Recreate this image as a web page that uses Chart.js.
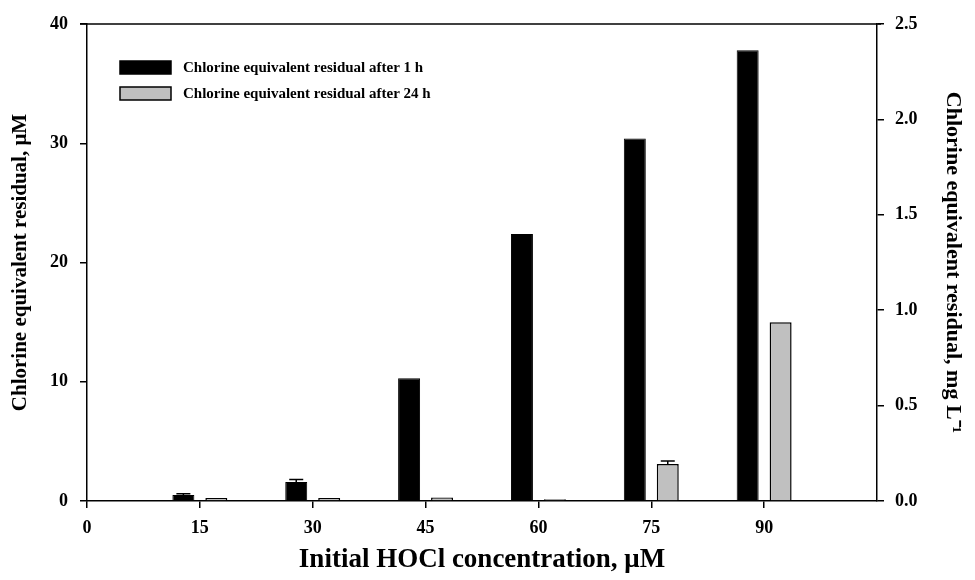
<!DOCTYPE html>
<html>
<head>
<meta charset="utf-8">
<script src="https://cdn.jsdelivr.net/npm/chart.js@4"></script>
<style>
  body { margin: 0; background: #fff; }
  #wrap { width: 975px; height: 580px; }
</style>
</head>
<body>
<div id="wrap"><canvas id="barChart" width="975" height="580"></canvas></div>
<script>
// data
const concentrations = [15, 30, 45, 60, 75, 90];
const residual1h = [0.5, 1.6, 10.3, 22.4, 30.4, 37.8];
const residual24h = [0.25, 0.25, 0.3, 0.15, 3.1, 15.0];
const err1h = [0.1, 0.2, 0, 0, 0, 0];
const err24h = [0, 0, 0, 0, 0.25, 0];
const xTicks = [0, 15, 30, 45, 60, 75, 90];
const seriesNames = ['Chlorine equivalent residual after 1 h', 'Chlorine equivalent residual after 24 h'];

const FONT = '"Liberation Serif", "Times New Roman", serif';
const tickFont = { family: FONT, size: 18, weight: 'bold' };
const yTitleFont = { family: FONT, size: 21, weight: 'bold' };
const y2TitleFont = { family: FONT, size: 22, weight: 'bold' };
const xTitleFont = { family: FONT, size: 27, weight: 'bold' };

// top frame line + error bars + legend inside plot
const extras = {
    id: 'extras',
    afterDatasetsDraw(chart) {
        const ctx = chart.ctx;
        const y = chart.scales.y;
        const errs = [err1h, err24h];
        ctx.save();
        ctx.strokeStyle = '#000';
        ctx.lineWidth = 1.5;
        chart.data.datasets.forEach((ds, i) => {
            const meta = chart.getDatasetMeta(i);
            meta.data.forEach((bar, j) => {
                const e = errs[i][j];
                if (!e) return;
                const top = y.getPixelForValue(ds.data[j].y + e);
                const cx = bar.x;
                ctx.beginPath();
                ctx.moveTo(cx, bar.y);
                ctx.lineTo(cx, top);
                ctx.moveTo(cx - 7, top);
                ctx.lineTo(cx + 7, top);
                ctx.stroke();
            });
        });
        // top border of frame
        const a = chart.chartArea;
        ctx.beginPath();
        ctx.moveTo(a.left - 7, a.top);
        ctx.lineTo(a.right + 4, a.top);
        ctx.stroke();
        // legend
        ctx.font = 'bold 15px ' + FONT;
        ctx.textBaseline = 'middle';
        const lx = a.left + 33, ly = [a.top + 37, a.top + 63];
        chart.data.datasets.forEach((ds, i) => {
            ctx.fillStyle = ds.backgroundColor;
            ctx.fillRect(lx, ly[i], 51, 13);
            ctx.lineWidth = 1.5;
            ctx.strokeRect(lx, ly[i], 51, 13);
            ctx.fillStyle = '#000';
            ctx.fillText(ds.label, lx + 63, ly[i] + 7);
        });
        ctx.restore();
    }
};

const gridOpts = { display: true, drawOnChartArea: false, offset: false, color: '#000', tickLength: 7, lineWidth: 1.5 };
const borderOpts = { display: true, color: '#000', width: 1.5 };

const ctx = document.getElementById('barChart').getContext('2d');
new Chart(ctx, {
    type: 'bar',
    data: {
        datasets: [{
            label: seriesNames[0],
            data: concentrations.map((c, i) => ({ x: c, y: residual1h[i] })),
            backgroundColor: '#000000',
            borderColor: '#000000',
            borderWidth: 1
        }, {
            label: seriesNames[1],
            data: concentrations.map((c, i) => ({ x: c, y: residual24h[i] })),
            backgroundColor: '#c0c0c0',
            borderColor: '#000000',
            borderWidth: 1.5
        }]
    },
    options: {
        responsive: false,
        animation: false,
        layout: { padding: { top: 24, left: 0, right: 0, bottom: 0 } },
        datasets: { bar: { categoryPercentage: 0.584, barPercentage: 0.667 } },
        plugins: {
            legend: { display: false },
            tooltip: { enabled: false }
        },
        scales: {
            x: {
                type: 'linear',
                min: 0,
                max: 105,
                offset: false,
                afterBuildTicks: s => { s.ticks = xTicks.map(v => ({ value: v })); },
                afterFit: s => { s.height = 79; },
                ticks: { font: tickFont, color: '#000', padding: 10, maxRotation: 0 },
                grid: gridOpts,
                border: borderOpts,
                title: { display: true, text: 'Initial HOCl concentration, μM', font: xTitleFont, color: '#000', padding: { top: 4, bottom: 4 } }
            },
            y: {
                position: 'left',
                min: 0,
                max: 40,
                afterFit: s => { s.width = 87; },
                ticks: { stepSize: 10, font: tickFont, color: '#000', padding: 12 },
                grid: gridOpts,
                border: borderOpts,
                title: { display: true, text: 'Chlorine equivalent residual, μM', font: yTitleFont, color: '#000', padding: { top: 8, bottom: 4 } }
            },
            y2: {
                position: 'right',
                min: 0,
                max: 2.5,
                afterFit: s => { s.width = 98; },
                ticks: { stepSize: 0.5, font: tickFont, color: '#000', padding: 11, callback: v => v.toFixed(1) },
                grid: gridOpts,
                border: borderOpts,
                title: { display: true, text: 'Chlorine equivalent residual, mg L⁻¹', font: y2TitleFont, color: '#000', padding: { top: 9, bottom: 4 } }
            }
        }
    },
    plugins: [extras]
});
</script>
</body>
</html>
